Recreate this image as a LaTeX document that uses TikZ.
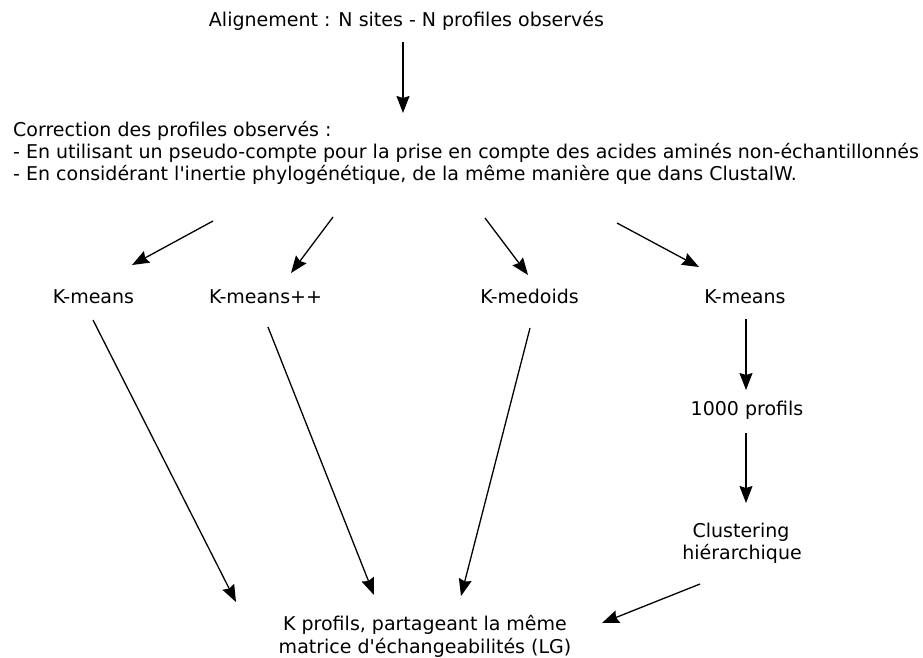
\documentclass[tikz,border=0pt]{standalone}
\usepackage{fontspec}
\setmainfont{DejaVu Sans}
\usetikzlibrary{arrows.meta}
\begin{document}
\begin{tikzpicture}[x=1pt,y=-1pt,
  lbl/.style={font=\fontsize{19}{23}\selectfont, inner sep=0pt, anchor=base},
  lblw/.style={lbl, anchor=base west},
  arr/.style={-{Stealth[length=17pt,width=13pt,inset=2pt]}, line width=1.3pt}]
\useasboundingbox (0,0) rectangle (923,657);
% texts
\node[lbl] (title) at (406.5,26) {Alignement : N sites - N profiles observés};
\node[lblw] (corr1) at (13,136) {Correction des profiles observés :};
\node[lblw] (corr2) at (13,158) {- En utilisant un pseudo-compte pour la prise en compte des acides aminés non-échantillonnés};
\node[lblw] (corr3) at (13,180) {- En considérant l\textquotesingle inertie phylogénétique, de la même manière que dans ClustalW.};
\node[lbl] (km1) at (93.5,303) {K-means};
\node[lbl] (kmpp) at (265.5,303) {K-means++};
\node[lbl] (kmed) at (529.5,303) {K-medoids};
\node[lbl] (km2) at (745,303) {K-means};
\node[lbl] (p1000) at (747,415) {1000 profils};
\node[lbl] (clus1) at (741,537) {Clustering};
\node[lbl] (clus2) at (742,559) {hiérarchique};
\node[lbl] (res1) at (425,630) {K profils, partageant la même};
\node[lbl] (res2) at (425,653) {matrice d\textquotesingle échangeabilités (LG)};
% connector ends
\coordinate (a0s) at (403,42);  \coordinate (a0e) at (403,113);
\coordinate (a1s) at (213,221); \coordinate (a1e) at (132,265);
\coordinate (a2s) at (333,217); \coordinate (a2e) at (291,273);
\coordinate (a3s) at (485,218); \coordinate (a3e) at (528,275);
\coordinate (a4s) at (617,223); \coordinate (a4e) at (699,267);
\coordinate (b1s) at (93,320);  \coordinate (b1e) at (236,602);
\coordinate (b2s) at (268,327); \coordinate (b2e) at (374,595);
\coordinate (b3s) at (530,328); \coordinate (b3e) at (461,596);
\coordinate (c1s) at (746,319); \coordinate (c1e) at (746,390);
\coordinate (c2s) at (746,433); \coordinate (c2e) at (746,503);
\coordinate (c3s) at (700,584); \coordinate (c3e) at (602,623);
% connectors
\foreach \n in {a0,a1,a2,a3,a4,b1,b2,b3,c1,c2,c3}
  \draw[arr] (\n s) -- (\n e);
\end{tikzpicture}
\end{document}
